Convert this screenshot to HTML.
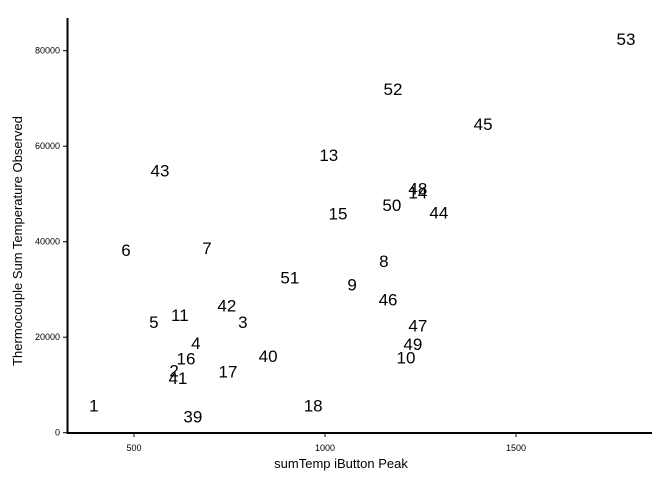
<!DOCTYPE html>
<html><head><meta charset="utf-8"><style>
body{margin:0;background:#fff}
svg{display:block;font-family:"Liberation Sans",Arial,sans-serif}
</style></head><body>
<svg id="chart" width="672" height="480">
<g id="axes"></g><g id="pts"></g>
<text x="341" y="468" text-anchor="middle" font-size="13">sumTemp iButton Peak</text>
<text transform="translate(22,241) rotate(-90)" text-anchor="middle" font-size="13">Thermocouple Sum Temperature Observed</text>
</svg>
<script>
const labels=["53","52","45","13","43","48","14","50","44","15","6","7","8","51","9","46","42","3","5","11","47","4","49","40","10","16","2","17","41","1","39","18"];
const xs=[1788,1178,1414,1010,568,1243,1243,1175,1298,1034,479,691,1154,908,1071,1165,743,785,552,620,1243,662,1230,851,1212,636,605,746,615,395,654,969];
const ys=[82500,72000,64700,58200,54900,51100,50300,47700,46100,45900,38300,38700,36000,32500,31000,27900,26600,23200,23200,24700,22400,18800,18600,16100,15700,15500,13000,12800,11500,5650,3350,5650];
const xTicks=[500,1000,1500];
const yTicks=[0,20000,40000,60000,80000];
const ns="http://www.w3.org/2000/svg";
const X=v=>134+(v-500)*0.382;
const Y=v=>432.7-v*0.004775;
const ax=document.getElementById('axes'),pg=document.getElementById('pts');
function mk(t,a,p){const e=document.createElementNS(ns,t);for(const k in a)e.setAttribute(k,a[k]);p.appendChild(e);return e;}
const xl=mk('line',{x1:67,x2:652,y1:433,y2:433,stroke:'#000','stroke-width':2},ax);


const yl=mk('line',{x1:67.5,x2:67.5,y1:18,y2:434,stroke:'#000','stroke-width':2},ax);


xTicks.forEach(v=>{
 const l=mk('line',{x1:X(v),x2:X(v),y1:433,y2:437,stroke:'#000'},ax);
 
 
 const t=mk('text',{x:X(v),y:451,'text-anchor':'middle','font-size':9},ax);t.textContent=v;
 
 
});
yTicks.forEach(v=>{
 const l=mk('line',{x1:63,x2:67,y1:Y(v),y2:Y(v),stroke:'#000'},ax);
 
 
 const t=mk('text',{x:60,y:Y(v)+3,'text-anchor':'end','font-size':9},ax);t.textContent=v;
 
 
});
labels.forEach((s,i)=>{
 const t=mk('text',{x:X(xs[i]),y:Y(ys[i])+6,'text-anchor':'middle','font-size':17},pg);t.textContent=s;
 
 
});
</script>
</body></html>
